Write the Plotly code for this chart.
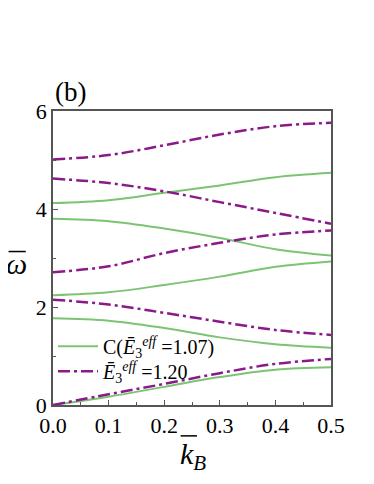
import plotly.graph_objects as go

# Band structure (k in units of the Brillouin zone)
k_vals = [0.0, 0.1, 0.2, 0.3, 0.4, 0.5]

# Case C (E3eff = 1.07), solid green
green_bands = [
    [0.00, 0.17, 0.37, 0.57, 0.72, 0.77],
    [1.77, 1.72, 1.57, 1.38, 1.24, 1.17],
    [2.24, 2.30, 2.45, 2.62, 2.82, 2.93],
    [3.80, 3.75, 3.60, 3.41, 3.18, 3.05],
    [4.12, 4.18, 4.33, 4.48, 4.65, 4.74],
]

# E3eff = 1.20, dash-dot purple
purple_bands = [
    [0.00, 0.22, 0.43, 0.65, 0.84, 0.94],
    [2.15, 2.05, 1.88, 1.70, 1.53, 1.43],
    [2.71, 2.83, 3.10, 3.31, 3.48, 3.56],
    [4.62, 4.53, 4.36, 4.14, 3.92, 3.70],
    [5.01, 5.10, 5.30, 5.52, 5.69, 5.76],
]

x_ticks = [0.0, 0.1, 0.2, 0.3, 0.4, 0.5]
y_ticks = [0, 2, 4, 6]

GREEN = "#7cc474"
PURPLE = "#8a1a8a"
FONT = "Liberation Serif"

fig = go.Figure()

for i, band in enumerate(green_bands):
    fig.add_trace(go.Scatter(
        x=k_vals, y=band, mode="lines", line_shape="spline",
        line=dict(color=GREEN, width=2),
        name="C(<i>Ē</i><sub>3</sub><sup><i>eff</i></sup> =1.07)",
        legend="legend", showlegend=(i == 0),
    ))

for i, band in enumerate(purple_bands):
    fig.add_trace(go.Scatter(
        x=k_vals, y=band, mode="lines", line_shape="spline",
        line=dict(color=PURPLE, width=2.5, dash="12px,4px,3px,4px"),
        name="<i>Ē</i><sub>3</sub><sup><i>eff</i></sup> =1.20",
        legend="legend2", showlegend=(i == 0),
    ))

axis_common = dict(
    showline=True, linecolor="#555555", linewidth=1.5, mirror=True,
    ticks="inside", ticklen=5, tickcolor="#555555", tickwidth=1,
    showgrid=False, zeroline=False,
    tickfont=dict(family=FONT, size=22, color="black"),
)

fig.update_xaxes(range=[0, 0.5], tickvals=x_ticks, tickformat=".1f",
                 minor=dict(ticks="inside", ticklen=3, dtick=0.05, tick0=0, tickcolor="#555555"),
                 **axis_common)
fig.update_yaxes(range=[0, 6], tickvals=y_ticks,
                 minor=dict(ticks="inside", ticklen=3, dtick=1, tick0=0, tickcolor="#555555"),
                 **axis_common)

fig.add_annotation(text="(b)", x=0, y=1.0, xref="paper", yref="paper",
                   xanchor="left", yanchor="bottom", showarrow=False, yshift=2,
                   font=dict(family=FONT, size=27, color="black"))
fig.add_annotation(text="<i>ω</i>", x=-0.13, y=0.48, xref="paper", yref="paper",
                   xanchor="center", yanchor="middle", showarrow=False,
                   font=dict(family=FONT, size=30, color="black"))
fig.add_annotation(text="<i>k</i><sub><i>B</i></sub>", x=0.45, y=-0.175, xref="paper", yref="paper",
                   xanchor="left", yanchor="middle", showarrow=False,
                   font=dict(family=FONT, size=30, color="black"))
# bars over the axis symbols
fig.add_shape(type="line", xref="paper", yref="paper", x0=-0.160, x1=-0.098, y0=0.522, y1=0.522,
              line=dict(color="black", width=1.5))
fig.add_shape(type="line", xref="paper", yref="paper", x0=0.459, x1=0.518, y0=-0.105, y1=-0.105,
              line=dict(color="black", width=1.5))

legend_common = dict(x=0.0, xanchor="left", yanchor="middle", bgcolor="rgba(0,0,0,0)",
                     font=dict(family=FONT, size=20, color="black"), itemwidth=40)

fig.update_layout(
    width=374, height=484,
    margin=dict(l=45, r=51, t=103, b=87),
    paper_bgcolor="white", plot_bgcolor="white",
    showlegend=True,
    legend=dict(y=0.20, **legend_common),
    legend2=dict(y=0.115, **legend_common),
)

fig.write_html("out.html")
